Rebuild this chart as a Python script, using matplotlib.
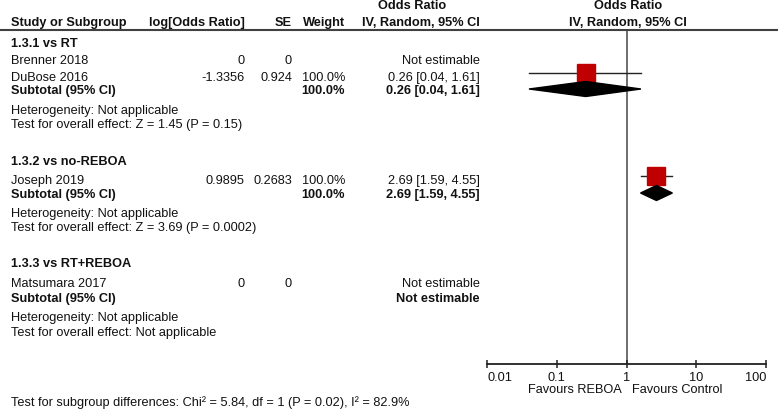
import matplotlib
matplotlib.use("Agg")
import matplotlib.pyplot as plt
from matplotlib.lines import Line2D
from matplotlib.patches import Polygon

plt.rcParams["font.family"] = ["Liberation Sans", "DejaVu Sans"]

# data
groups = ["1.3.1 vs RT", "1.3.2 vs no-REBOA", "1.3.3 vs RT+REBOA"]
studies = [["Brenner 2018", "DuBose 2016"], ["Joseph 2019"], ["Matsumara 2017"]]
log_or = [[0, -1.3356], [0.9895], [0]]
se = [[0, 0.924], [0.2683], [0]]
weight = [[None, 100.0], [100.0], [None]]
or_est = [[None, 0.26], [2.69], [None]]
or_lo = [[None, 0.04], [1.59], [None]]
or_hi = [[None, 1.61], [4.55], [None]]
sub_weight = [100.0, 100.0, None]
sub_or = [0.26, 2.69, None]
sub_lo = [0.04, 1.59, None]
sub_hi = [1.61, 4.55, None]
overall_tests = ["Z = 1.45 (P = 0.15)", "Z = 3.69 (P = 0.0002)", "Not applicable"]
ticks = [0.01, 0.1, 1, 10, 100]
subgroup_test = "Test for subgroup differences: Chi² = 5.84, df = 1 (P = 0.02), I² = 82.9%"

# row layout (pixels from top): header, studies, subtotal, heterogeneity, overall test
row_y = [
    (42, [59, 76], 89, 109, 123),
    (160, [179], 193, 212, 226),
    (262, [282], 297, 316, 331),
]

W, H = 778, 409
fig = plt.figure(figsize=(W / 100, H / 100), dpi=100)
FS = 9.2
TXT = "#111111"
LINE = "#555555"
TEXT_SHIFT = 2    # va="center" sits a bit high for the glyphs
SQUARE_SHIFT = -3  # study squares sit slightly above their text row


def fx(px):
    return px / W


def fy(py):
    return 1 - py / H


def put(x, y, s, ha="left", bold=False):
    fig.text(fx(x), fy(y + TEXT_SHIFT), s, ha=ha, va="center", fontsize=FS, color=TXT,
             fontweight="bold" if bold else "normal")


def ci_text(e, lo, hi):
    return f"{e:.2f} [{lo:.2f}, {hi:.2f}]"


# forest axes: x on log scale, y in pixel rows from top
ax = fig.add_axes([fx(487), fy(364), fx(766) - fx(487), fy(30) - fy(364)])
ax.set_xscale("log")
ax.set_xlim(ticks[0], ticks[-1])
ax.set_ylim(364, 30)
for s in ["top", "left", "right"]:
    ax.spines[s].set_visible(False)
ax.spines["bottom"].set_color("#222222")
ax.spines["bottom"].set_linewidth(1.3)
ax.set_yticks([])
ax.set_xticks(ticks)
ax.set_xticklabels([f"{t:g}" for t in ticks], fontsize=FS, color=TXT)
ax.xaxis.set_minor_locator(matplotlib.ticker.NullLocator())
ax.tick_params(axis="x", direction="inout", length=6, width=1.1, color="#222222", pad=3)
labs = ax.get_xticklabels()
labs[0].set_ha("left")
labs[-1].set_ha("right")
ax.axvline(1, color=LINE, lw=1.2, zorder=1)
ax.patch.set_alpha(0)

# header
fig.add_artist(Line2D([0, 1], [fy(30), fy(30)], color="#404040", lw=1.5))
put(412, 4, "Odds Ratio", ha="center", bold=True)
put(628, 4, "Odds Ratio", ha="center", bold=True)
put(11, 21, "Study or Subgroup", bold=True)
put(245, 21, "log[Odds Ratio]", ha="right", bold=True)
put(292, 21, "SE", ha="right", bold=True)
put(345, 21, "Weight", ha="right", bold=True)
put(480, 21, "IV, Random, 95% CI", ha="right", bold=True)
put(628, 21, "IV, Random, 95% CI", ha="center", bold=True)

for g, (y_head, y_studies, y_sub, y_het, y_test) in enumerate(row_y):
    put(11, y_head, groups[g], bold=True)
    for i, name in enumerate(studies[g]):
        y = y_studies[i]
        put(11, y, name)
        put(245, y, f"{log_or[g][i]:g}", ha="right")
        put(292, y, f"{se[g][i]:g}", ha="right")
        if weight[g][i] is not None:
            put(345, y, f"{weight[g][i]:.1f}%", ha="right")
            put(480, y, ci_text(or_est[g][i], or_lo[g][i], or_hi[g][i]), ha="right")
            ym = y + SQUARE_SHIFT
            ax.plot([or_lo[g][i], or_hi[g][i]], [ym, ym], color="#222222", lw=1.0, zorder=2)
            ax.plot([or_est[g][i]], [ym], marker="s", ms=13.6, color="#c00000",
                    mec="#c00000", zorder=3)
        else:
            put(480, y, "Not estimable", ha="right")
    put(11, y_sub, "Subtotal (95% CI)", bold=True)
    if sub_or[g] is not None:
        put(345, y_sub, f"{sub_weight[g]:.1f}%", ha="right", bold=True)
        put(480, y_sub, ci_text(sub_or[g], sub_lo[g], sub_hi[g]), ha="right", bold=True)
        e, lo, hi = sub_or[g], sub_lo[g], sub_hi[g]
        ax.add_patch(Polygon([(lo, y_sub), (e, y_sub - 7.5), (hi, y_sub), (e, y_sub + 7.5)],
                             closed=True, color="black", zorder=4))
    else:
        put(480, y_sub, "Not estimable", ha="right", bold=True)
    put(11, y_het, "Heterogeneity: Not applicable")
    put(11, y_test, "Test for overall effect: " + overall_tests[g])

put(622, 388, "Favours REBOA", ha="right")
put(632, 388, "Favours Control")
put(11, 401, subgroup_test)

fig.savefig("out.png", dpi=100)
